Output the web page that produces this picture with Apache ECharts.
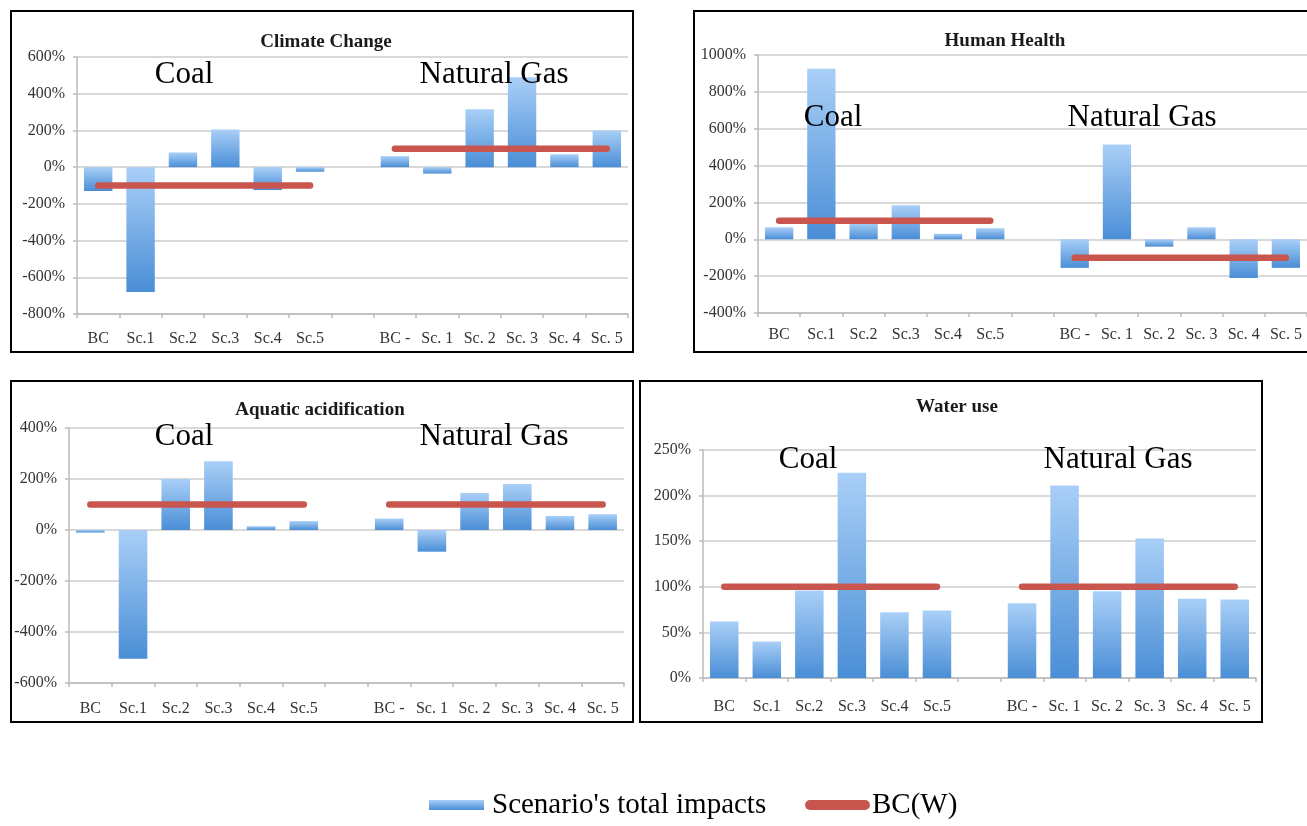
<!DOCTYPE html>
<html>
<head>
<meta charset="utf-8">
<script src="https://cdn.jsdelivr.net/npm/echarts@6/dist/echarts.min.js"></script>
<style>
  html, body { margin: 0; padding: 0; background: #ffffff; }
  #chart { width: 1307px; height: 826px; }
</style>
</head>
<body>
<div id="chart"></div>
<script>
// Category axis: six coal cases, an empty spacer slot, six natural-gas cases
const coalCategories = ['BC', 'Sc.1', 'Sc.2', 'Sc.3', 'Sc.4', 'Sc.5'];
const gasCategories = ['BC -', 'Sc. 1', 'Sc. 2', 'Sc. 3', 'Sc. 4', 'Sc. 5'];

// Scenario's total impacts (% of reference)
const climateCoal = [-130, -680, 80, 205, -125, -25];
const climateGas = [60, -35, 315, 490, 70, 200];
const healthCoal = [65, 925, 90, 185, 30, 60];
const healthGas = [-155, 515, -40, 65, -210, -155];
const acidCoal = [-10, -505, 200, 270, 15, 35];
const acidGas = [45, -85, 145, 180, 55, 62];
const waterCoal = [62, 40, 96, 225, 72, 74];
const waterGas = [82, 211, 95, 153, 87, 86];

// BC(W) reference level for each case
const climateBCWCoal = [-100, -100, -100, -100, -100, -100];
const climateBCWGas = [100, 100, 100, 100, 100, 100];
const healthBCWCoal = [100, 100, 100, 100, 100, 100];
const healthBCWGas = [-100, -100, -100, -100, -100, -100];
const acidBCWCoal = [100, 100, 100, 100, 100, 100];
const acidBCWGas = [100, 100, 100, 100, 100, 100];
const waterBCWCoal = [100, 100, 100, 100, 100, 100];
const waterBCWGas = [100, 100, 100, 100, 100, 100];

// Value-axis ranges: [min, max, interval]
const climateAxis = [-800, 600, 200];
const healthAxis = [-400, 1000, 200];
const acidAxis = [-600, 400, 200];
const waterAxis = [0, 250, 50];

const panelTitles = ['Climate Change', 'Human Health', 'Aquatic acidification', 'Water use'];
const groupLabels = ['Coal', 'Natural Gas'];
const barName = "Scenario's total impacts";
const lineName = 'BC(W)';

const categories = coalCategories.concat([''], gasCategories);
const withGap = (a, b) => a.concat(['-'], b);

const SERIF = "'Liberation Serif', 'Times New Roman', serif";
const RED = '#c9564e';

const panels = [
  { grid: { left: 77, top: 57, width: 551, height: 257 }, axis: climateAxis, labelGap: 17,
    bars: withGap(climateCoal, climateGas), ref: withGap(climateBCWCoal, climateBCWGas),
    title: [326, 42], coal: [184, 75], gas: [494, 75] },
  { grid: { left: 758, top: 55, width: 551, height: 258 }, axis: healthAxis, labelGap: 14,
    bars: withGap(healthCoal, healthGas), ref: withGap(healthBCWCoal, healthBCWGas),
    title: [1005, 41], coal: [833, 118], gas: [1142, 118] },
  { grid: { left: 69, top: 428, width: 555, height: 255 }, axis: acidAxis, labelGap: 18,
    bars: withGap(acidCoal, acidGas), ref: withGap(acidBCWCoal, acidBCWGas),
    title: [320, 410], coal: [184, 437], gas: [494, 437] },
  { grid: { left: 703, top: 450, width: 553, height: 228 }, axis: waterAxis, labelGap: 21,
    bars: withGap(waterCoal, waterGas), ref: withGap(waterBCWCoal, waterBCWGas),
    title: [957, 407], coal: [808, 460], gas: [1118, 460] }
];

// Panel frames
const frames = [
  { x: 11, y: 11, width: 622, height: 341 },
  { x: 694, y: 11, width: 700, height: 341 },
  { x: 11, y: 381, width: 622, height: 341 },
  { x: 640, y: 381, width: 622, height: 341 }
];

const barGradient = new echarts.graphic.LinearGradient(0, 0, 0, 1, [
  { offset: 0, color: '#a9cff7' },
  { offset: 1, color: '#4a8ed6' }
]);

const grids = [], xAxes = [], yAxes = [], series = [], graphics = [];

panels.forEach((p, i) => {
  grids.push(Object.assign({ containLabel: false }, p.grid));
  xAxes.push({
    type: 'category', gridIndex: i, data: categories,
    axisLine: { onZero: false, lineStyle: { color: '#bababa', width: 1.5 } },
    axisTick: { show: true, length: 4, lineStyle: { color: '#bababa', width: 1.5 } },
    axisLabel: { interval: 0, margin: p.labelGap, color: '#333333', fontFamily: SERIF, fontSize: 16 },
    splitLine: { show: false }
  });
  yAxes.push({
    type: 'value', gridIndex: i, min: p.axis[0], max: p.axis[1], interval: p.axis[2],
    axisLine: { show: true, lineStyle: { color: '#bababa', width: 1.5 } },
    axisTick: { show: true, length: 4, lineStyle: { color: '#bababa', width: 1.5 } },
    axisLabel: { margin: 12, color: '#333333', fontFamily: SERIF, fontSize: 16,
      formatter: v => v + '%' },
    splitLine: { show: true, lineStyle: { color: '#cccccc', width: 1.6 } }
  });
  series.push({
    name: barName, type: 'bar', xAxisIndex: i, yAxisIndex: i,
    data: p.bars, barCategoryGap: '33%',
    itemStyle: { color: barGradient }
  });
  series.push({
    name: lineName, type: 'line', xAxisIndex: i, yAxisIndex: i,
    data: p.ref, showSymbol: false, symbol: 'none', connectNulls: false,
    lineStyle: { color: RED, width: 6.5, cap: 'round' },
    itemStyle: { color: RED }, z: 5
  });
  graphics.push({
    type: 'text', x: p.title[0], y: p.title[1],
    style: { text: panelTitles[i], align: 'center', verticalAlign: 'middle',
      font: 'bold 19px ' + SERIF, fill: '#1a1a1a' }
  });
  graphics.push({
    type: 'text', x: p.coal[0], y: p.coal[1], z: 10,
    style: { text: groupLabels[0], align: 'center', verticalAlign: 'middle',
      font: '31px ' + SERIF, fill: '#000000' }
  });
  graphics.push({
    type: 'text', x: p.gas[0], y: p.gas[1], z: 10,
    style: { text: groupLabels[1], align: 'center', verticalAlign: 'middle',
      font: '31px ' + SERIF, fill: '#000000' }
  });
});

frames.forEach(f => {
  graphics.push({
    type: 'rect', shape: f, z: 20,
    style: { fill: 'none', stroke: '#000000', lineWidth: 2 }
  });
});

const pill = 'path://M5,0 L60,0 A5,5 0 0 1 60,10 L5,10 A5,5 0 0 1 5,0 Z';
const legendText = { fontFamily: SERIF, fontSize: 29, color: '#000000', lineHeight: 34 };

const chart = echarts.init(document.getElementById('chart'), null, { renderer: 'canvas' });
chart.setOption({
  animation: false,
  backgroundColor: '#ffffff',
  grid: grids,
  xAxis: xAxes,
  yAxis: yAxes,
  series: series,
  legend: [
    { data: [{ name: barName, icon: 'rect' }], left: 429, top: 783, padding: 0,
      itemWidth: 55, itemHeight: 10, itemStyle: { borderWidth: 0 },
      textStyle: Object.assign({ padding: [10, 0, 0, 3] }, legendText) },
    { data: [{ name: lineName, icon: pill }], left: 805, top: 783, padding: 0,
      itemWidth: 65, itemHeight: 10, itemStyle: { borderWidth: 0 },
      textStyle: Object.assign({ padding: [10, 0, 0, -3] }, legendText) }
  ],
  graphic: graphics
});
</script>
</body>
</html>
